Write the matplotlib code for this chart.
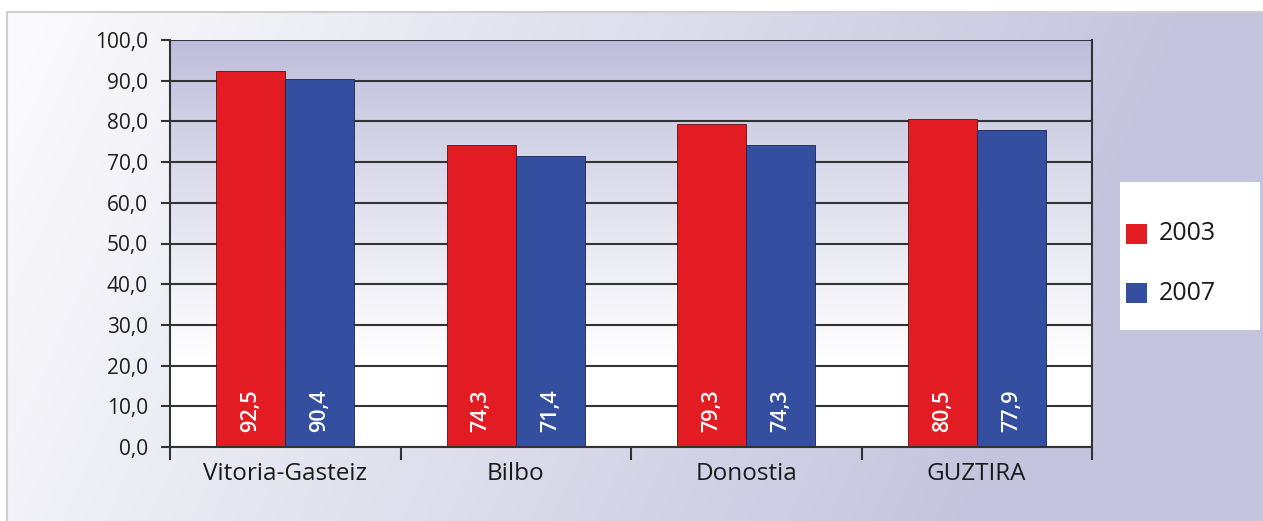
import numpy as np
import matplotlib
matplotlib.use("Agg")
import matplotlib.pyplot as plt
from matplotlib.patches import Rectangle

categories = ["Vitoria-Gasteiz", "Bilbo", "Donostia", "GUZTIRA"]
series_labels = ["2003", "2007"]
values_2003 = [92.5, 74.3, 79.3, 80.5]
values_2007 = [90.4, 71.4, 74.3, 77.9]
y_ticks = [0, 10, 20, 30, 40, 50, 60, 70, 80, 90, 100]

RED = "#e31c24"
BLUE = "#344ea0"
GRID = "#333333"
FONT = "Open Sans"
plt.rcParams["font.family"] = [FONT, "DejaVu Sans"]

W, H = 1263, 521
fig = plt.figure(figsize=(W / 100, H / 100), dpi=100)

# ---- figure background gradient ----
bg = fig.add_axes([0, 0, 1, 1], zorder=-10)
bg.axis("off")
yy, xx = np.mgrid[0:H, 0:W]
t = np.clip(xx / W * 1.1 - 0.05 + 0.2 * yy / H, 0, 1)
white = np.array([250, 250, 252]) / 255
lav = np.array([196, 196, 222]) / 255
img = white[None, None, :] + t[..., None] * (lav - white)[None, None, :]
mask = (xx < 7) | (yy < 12)
img[mask] = 1.0
bg.imshow(img, extent=[0, 1, 0, 1], aspect="auto", origin="upper", zorder=0)
bg.set_xlim(0, 1)
bg.set_ylim(0, 1)
bg.plot([7 / W, 7 / W, 1], [0, 1 - 12 / H, 1 - 12 / H], color="#cfcfcf", lw=1.5,
        transform=bg.transAxes, zorder=1)

# ---- main axes ----
ax = fig.add_axes([170 / W, 1 - 447 / H, (1092 - 170) / W, (447 - 40) / H])
ax.patch.set_visible(False)
ax.set_xlim(-0.5, len(categories) - 0.5)
ax.set_ylim(0, 100)

gy = np.linspace(0, 1, 200)[:, None]
tt = np.clip(1 - gy / 0.8, 0, 1) ** 1.1
top = np.array([190, 190, 220]) / 255
pw = np.array([255, 255, 255]) / 255
pimg = pw[None, None, :] + tt[..., None] * (top - pw)[None, None, :]
pimg = np.repeat(pimg, 4, axis=1)
ax.imshow(pimg, extent=[-0.5, len(categories) - 0.5, 0, 100], aspect="auto",
          origin="upper", zorder=0)

x = np.arange(len(categories))
bw = 0.3
b1 = ax.bar(x - bw / 2, values_2003, bw, color=RED, edgecolor="#5a1010", lw=0.6,
            label=series_labels[0], zorder=2)
b2 = ax.bar(x + bw / 2, values_2007, bw, color=BLUE, edgecolor="#1a2550", lw=0.6,
            label=series_labels[1], zorder=2)

for bars, vals in ((b1, values_2003), (b2, values_2007)):
    for rect, v in zip(bars, vals):
        ax.annotate(f"{v:.1f}".replace(".", ","),
                    xy=(rect.get_x() + rect.get_width() / 2, 0),
                    xytext=(0, 10.5), textcoords="offset points",
                    rotation=90, ha="center", va="bottom",
                    color="white", fontsize=15.5, fontweight="semibold", zorder=3)

ax.set_yticks(y_ticks)
ax.set_yticklabels([f"{v:.1f}".replace(".", ",") for v in y_ticks], fontsize=15,
                   color="#1e1e1e")
ax.yaxis.grid(True, color=GRID, lw=1.5)
ax.set_axisbelow(True)
ax.tick_params(axis="y", length=6.5, width=1.5, color=GRID, pad=9.4)

ax.set_xticks(x)
ax.set_xticklabels(categories, fontsize=17.5, color="#1a1a1a")
ax.tick_params(axis="x", which="major", length=0, pad=11)
ax.set_xticks(np.arange(-0.5, len(categories), 1.0), minor=True)
ax.tick_params(axis="x", which="minor", length=9, width=1.5, color=GRID)

for s in ("left", "right", "bottom"):
    ax.spines[s].set_color(GRID)
    ax.spines[s].set_linewidth(1.5)
ax.spines["top"].set_visible(False)

# ---- legend box ----
fig.patches.append(Rectangle((1120 / W, 1 - 330 / H), 140 / W, 148 / H,
                             transform=fig.transFigure, facecolor="white",
                             edgecolor="none", zorder=5))
for lab, col, yc in ((series_labels[0], RED, 234), (series_labels[1], BLUE, 293)):
    fig.patches.append(Rectangle((1126 / W, 1 - (yc + 10) / H), 21 / W, 20 / H,
                                 transform=fig.transFigure, facecolor=col,
                                 edgecolor="none", zorder=6))
    fig.text(1159 / W, 1 - yc / H, lab, fontsize=18, va="center", ha="left",
             color="#1a1a1a", zorder=7)

fig.savefig("out.png", dpi=100)
